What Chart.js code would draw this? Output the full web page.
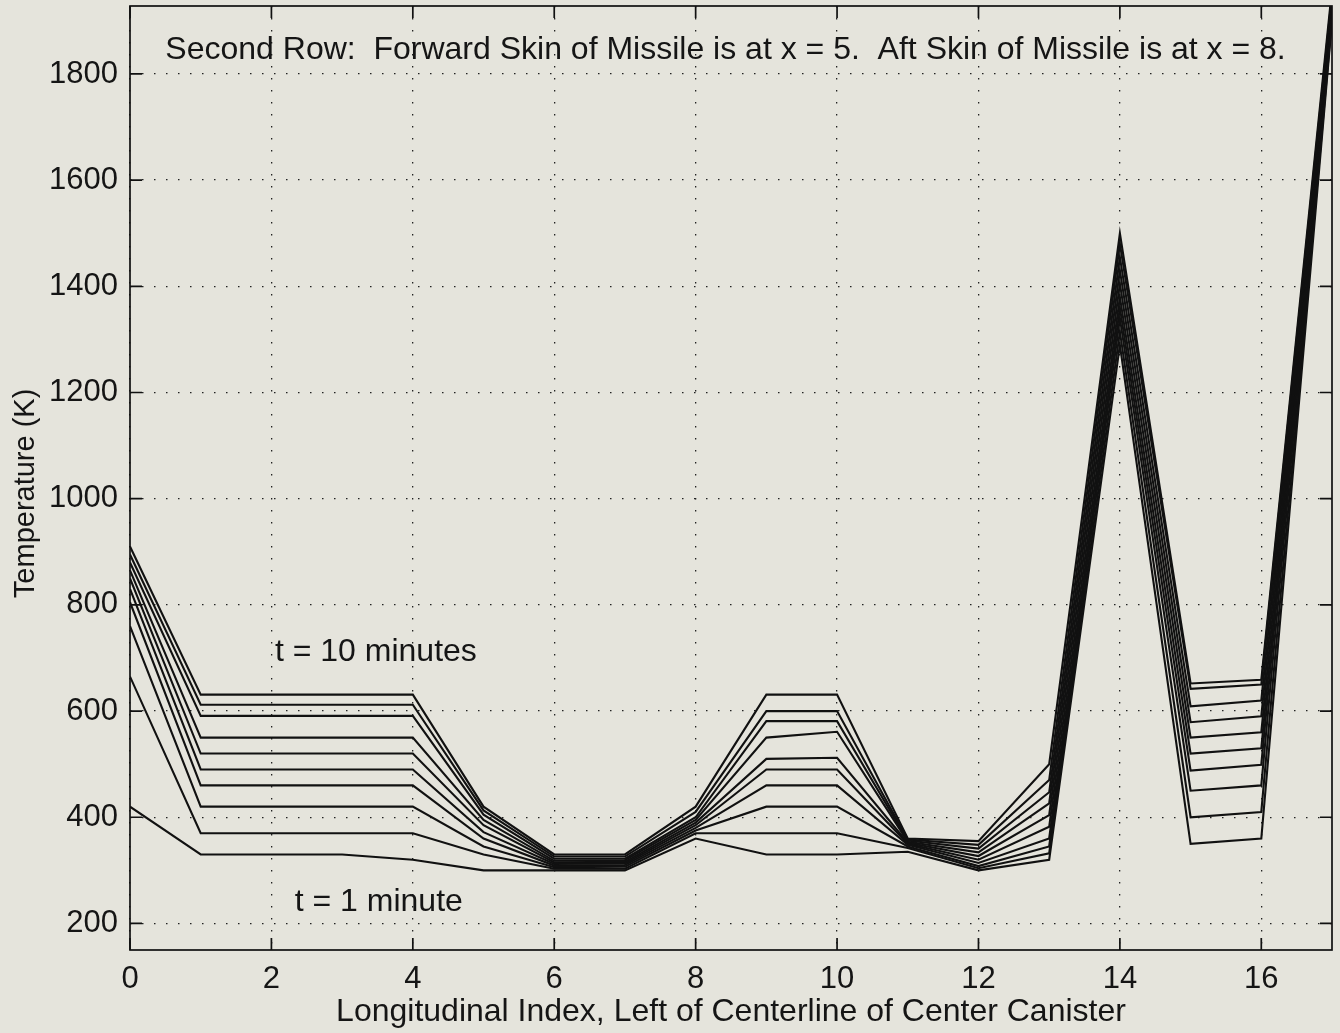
<!DOCTYPE html>
<html>
<head>
<meta charset="utf-8">
<script src="https://cdn.jsdelivr.net/npm/chart.js@4.4.1/dist/chart.umd.min.js"></script>
<style>
  html, body { margin: 0; padding: 0; background: #e4e3db; }
  #wrap { width: 1340px; height: 1033px; }
</style>
</head>
<body>
<div id="wrap"><canvas id="grafico" width="1340" height="1033"></canvas></div>
<script>
// indice longitudinale (asse x) e tacche degli assi
const xIndex = [0, 1, 2, 3, 4, 5, 6, 7, 8, 9, 10, 11, 12, 13, 14, 15, 16, 17];
const xTickLabels = [0, 2, 4, 6, 8, 10, 12, 14, 16];
const yTickLabels = [200, 400, 600, 800, 1000, 1200, 1400, 1600, 1800];

// temperature (K), una curva per minuto
const t1  = [420, 330, 330, 330, 320, 300, 300, 300, 360, 330, 330, 335, 300, 320, 1290, 350, 360, 1900];
const t2  = [665, 370, 370, 370, 370, 330, 303, 303, 370, 370, 370, 342, 304, 332, 1315, 400, 410, 1905];
const t3  = [760, 420, 420, 420, 420, 345, 306, 307, 375, 420, 420, 345, 308, 345, 1340, 450, 460, 1910];
const t4  = [805, 460, 460, 460, 460, 360, 309, 310, 380, 460, 460, 348, 314, 360, 1360, 488, 499, 1915];
const t5  = [830, 490, 490, 490, 490, 372, 312, 313, 385, 490, 490, 350, 320, 382, 1380, 520, 530, 1920];
const t6  = [850, 520, 520, 520, 520, 385, 315, 316, 390, 510, 512, 352, 327, 404, 1405, 550, 560, 1930];
const t7  = [865, 550, 550, 550, 550, 395, 318, 319, 395, 550, 561, 354, 334, 426, 1430, 579, 590, 1940];
const t8  = [880, 591, 591, 591, 591, 405, 322, 322, 400, 581, 581, 356, 341, 447, 1455, 609, 620, 1945];
const t9  = [895, 612, 612, 612, 612, 413, 326, 326, 410, 600, 600, 358, 348, 470, 1480, 642, 650, 1950];
const t10 = [910, 631, 631, 631, 631, 420, 330, 330, 420, 631, 631, 360, 355, 500, 1500, 652, 659, 1960];

const serie = [t1, t2, t3, t4, t5, t6, t7, t8, t9, t10];

const titolo = 'Second Row:  Forward Skin of Missile is at x = 5.  Aft Skin of Missile is at x = 8.';
const etichette = ['t = 10 minutes', 't = 1 minute'];
const titoloY = 'Temperature (K)';

const testoColore = '#151515';
const famiglia = '"Liberation Sans", Arial, Helvetica, sans-serif';

// sfondo, cornice, tacche interne e scritte
const cornice = {
  id: 'cornice',
  beforeDraw(chart) {
    const ctx = chart.ctx;
    ctx.save();
    ctx.fillStyle = '#e5e4dc';
    ctx.fillRect(0, 0, chart.width, chart.height);
    ctx.restore();
  },
  afterDatasetsDraw(chart) {
    const { ctx, chartArea: a, scales: { x, y } } = chart;
    ctx.save();
    ctx.strokeStyle = '#111';
    ctx.lineWidth = 1.7;
    ctx.strokeRect(a.left, a.top, a.right - a.left, a.bottom - a.top);

    ctx.beginPath();
    xTickLabels.forEach(v => {
      const px = x.getPixelForValue(v);
      ctx.moveTo(px, a.bottom); ctx.lineTo(px, a.bottom - 12);
      ctx.moveTo(px, a.top); ctx.lineTo(px, a.top + 12);
    });
    yTickLabels.forEach(v => {
      const py = y.getPixelForValue(v);
      ctx.moveTo(a.left, py); ctx.lineTo(a.left + 12, py);
      ctx.moveTo(a.right, py); ctx.lineTo(a.right - 12, py);
    });
    ctx.stroke();

    ctx.fillStyle = testoColore;
    ctx.font = '32px ' + famiglia;
    ctx.textBaseline = 'middle';
    ctx.textAlign = 'left';
    ctx.fillText(titolo, x.getPixelForValue(0.5), y.getPixelForValue(1845));
    ctx.fillText(etichette[0], x.getPixelForValue(2.05), y.getPixelForValue(711));
    ctx.fillText(etichette[1], x.getPixelForValue(2.33), y.getPixelForValue(241));

    // titolo asse y, un po' sotto il centro come nell'originale
    ctx.translate(26, y.getPixelForValue(1010));
    ctx.rotate(-Math.PI / 2);
    ctx.textAlign = 'center';
    ctx.font = '29px ' + famiglia;
    ctx.fillText(titoloY, 0, 0);
    ctx.restore();
  }
};

const griglia = {
  color: '#222',
  lineWidth: 1.3,
  drawTicks: false
};

// niente margini automatici: l'area del grafico resta dove è nel riferimento
const fissa = (s, lato) => {
  if (lato === 'x') s.height = 83; else s.width = 130;
  s.paddingTop = 0; s.paddingBottom = 0;
  s.paddingLeft = 0; s.paddingRight = 0;
};

new Chart(document.getElementById('grafico'), {
  type: 'line',
  data: {
    datasets: serie.map((s, i) => ({
      label: 't = ' + (i + 1) + ' min',
      data: xIndex.map((v, k) => ({ x: v, y: s[k] })),
      borderColor: '#111',
      borderWidth: 2.1,
      pointRadius: 0,
      tension: 0,
      fill: false
    }))
  },
  options: {
    responsive: false,
    animation: false,
    devicePixelRatio: 1,
    layout: { padding: { top: 6, right: 8, left: 0, bottom: 0 } },
    plugins: {
      legend: { display: false },
      tooltip: { enabled: false }
    },
    scales: {
      x: {
        type: 'linear',
        min: 0,
        max: 17,
        afterBuildTicks: s => { s.ticks = xTickLabels.map(v => ({ value: v })); },
        afterFit: s => fissa(s, 'x'),
        grid: griglia,
        border: { display: false, dash: [1.5, 10.5] },
        ticks: {
          padding: 11,
          color: testoColore,
          font: { family: famiglia, size: 31 },
          maxRotation: 0,
          callback: v => String(v)
        },
        title: {
          display: true,
          text: 'Longitudinal Index, Left of Centerline of Center Canister',
          color: testoColore,
          font: { family: famiglia, size: 32 },
          padding: { top: 0, bottom: 2 }
        }
      },
      y: {
        type: 'linear',
        min: 150,
        max: 1928,
        afterBuildTicks: s => { s.ticks = yTickLabels.map(v => ({ value: v })); },
        afterFit: s => fissa(s, 'y'),
        grid: griglia,
        border: { display: false, dash: [1.5, 10.5] },
        ticks: {
          padding: 12,
          color: testoColore,
          font: { family: famiglia, size: 31 },
          callback: v => String(v)
        },
        title: { display: false }
      }
    }
  },
  plugins: [cornice]
});
</script>
</body>
</html>
